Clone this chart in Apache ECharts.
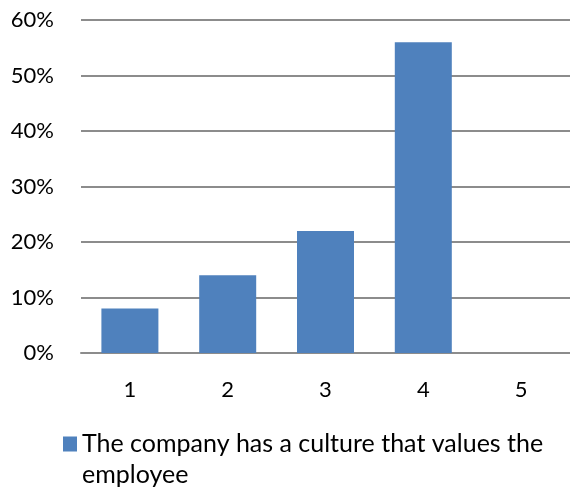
<!DOCTYPE html>
<html>
<head>
<meta charset="utf-8">
<script src="https://cdn.jsdelivr.net/npm/echarts@6/dist/echarts.min.js"></script>
<style>
  html, body { margin: 0; padding: 0; background: #fff; }
  #chart { width: 570px; height: 494px; }
</style>
</head>
<body>
<div id="chart"></div>
<script>
// Survey responses on a 1–5 scale, share of respondents (%)
const categories = ['1', '2', '3', '4', '5'];
const seriesName = 'The company has a culture that values the\nemployee';
const shares = [8, 14, 22, 56, 0];
const yTicks = { min: 0, max: 60, interval: 10 };

const font = 'Lato, "Open Sans", sans-serif';
const chart = echarts.init(document.getElementById('chart'), null, { renderer: 'canvas' });

// Legend marker: a square in the top third of a tall icon box (with a
// vanishingly small anchor at the bottom), so the square sits level with
// the first line of the two-line label instead of between the lines.
const legendIcon = 'path://M0,0h14v15h-14z M0,44.99h0.01v0.01h-0.01z';

chart.setOption({
  animation: false,
  backgroundColor: '#ffffff',
  grid: { left: 81, top: 20, width: 491, height: 333, containLabel: false },
  legend: {
    data: [seriesName],
    left: 63,
    top: 428,
    padding: 0,
    itemWidth: 14,
    itemHeight: 45,
    icon: legendIcon,
    textStyle: {
      fontFamily: font, fontSize: 25, color: '#000', lineHeight: 31
    }
  },
  xAxis: {
    type: 'category',
    data: categories,
    axisLine: { show: true, lineStyle: { color: '#8c8c8c', width: 2 } },
    axisTick: { show: false },
    axisLabel: { color: '#000', fontFamily: font, fontSize: 22, margin: 26 }
  },
  yAxis: {
    type: 'value',
    min: yTicks.min,
    max: yTicks.max,
    interval: yTicks.interval,
    axisLine: { show: false },
    axisTick: { show: false },
    splitLine: { show: true, lineStyle: { color: '#8c8c8c', width: 2 } },
    axisLabel: { color: '#000', fontFamily: font, fontSize: 22, margin: 27, formatter: '{value}%' }
  },
  series: [{
    name: seriesName,
    type: 'bar',
    data: shares,
    barWidth: 57,
    itemStyle: { color: '#4f81bd' }
  }]
});
</script>
</body>
</html>
